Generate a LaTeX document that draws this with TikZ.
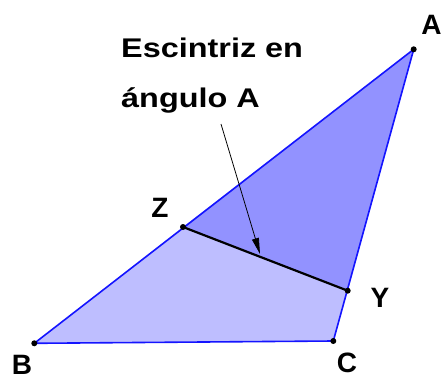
\documentclass[tikz,border=0pt]{standalone}
\usepackage{fontspec}
\setmainfont{Liberation Sans}
\newfontfamily\txtfont[FakeStretch=1.2]{Liberation Sans}
\usetikzlibrary{arrows.meta}
\definecolor{edgeblue}{RGB}{20,20,255}
\definecolor{darkfill}{RGB}{146,146,255}
\definecolor{lightfill}{RGB}{190,190,255}
\tikzset{
  pt/.style={circle,fill=black,inner sep=0pt,minimum size=6pt},
  lbl/.style={font=\fontsize{28}{30}\selectfont\bfseries,inner sep=0pt},
  txt/.style={font=\txtfont\fontsize{27}{48}\selectfont\bfseries,inner sep=0pt,align=left,anchor=west},
}
\begin{document}
\begin{tikzpicture}[x=1pt,y=-1pt]
\useasboundingbox (0,0) rectangle (442,380);
\coordinate (A) at (413.7,49.3);
\coordinate (B) at (34.3,343.3);
\coordinate (C) at (333.3,341);
\coordinate (Z) at (183,227);
\coordinate (Y) at (347.7,290.7);
\fill[lightfill] (Z) -- (B) -- (C) -- (Y) -- cycle;
\fill[darkfill] (A) -- (Z) -- (Y) -- cycle;
\draw[edgeblue,line width=1.6pt,line join=round] (A) -- (B) -- (C) -- cycle;
\draw[black,line width=2.2pt] (Z) -- (Y);
\node[pt] at (A) {};
\node[pt] at (B) {};
\node[pt] at (C) {};
\node[pt] at (Z) {};
\node[pt] at (Y) {};
\node[lbl] (lA) at (431.5,25) {A};
\node[lbl] (lB) at (22,365) {B};
\node[lbl] (lC) at (347,363) {C};
\node[lbl] (lZ) at (160,207.5) {Z};
\node[lbl] (lY) at (380,298) {Y};
\node[txt,anchor=base west] (t1) at (121,57.5) {Escintriz en};
\node[txt,anchor=base west] (t2) at (121,107) {ángulo A};
\coordinate (s) at (221,124);
\coordinate (e) at (260,254);
\draw[black,line width=0.8pt,-{Triangle[length=16pt,width=7pt]}] (s) -- (e);
\end{tikzpicture}
\end{document}
